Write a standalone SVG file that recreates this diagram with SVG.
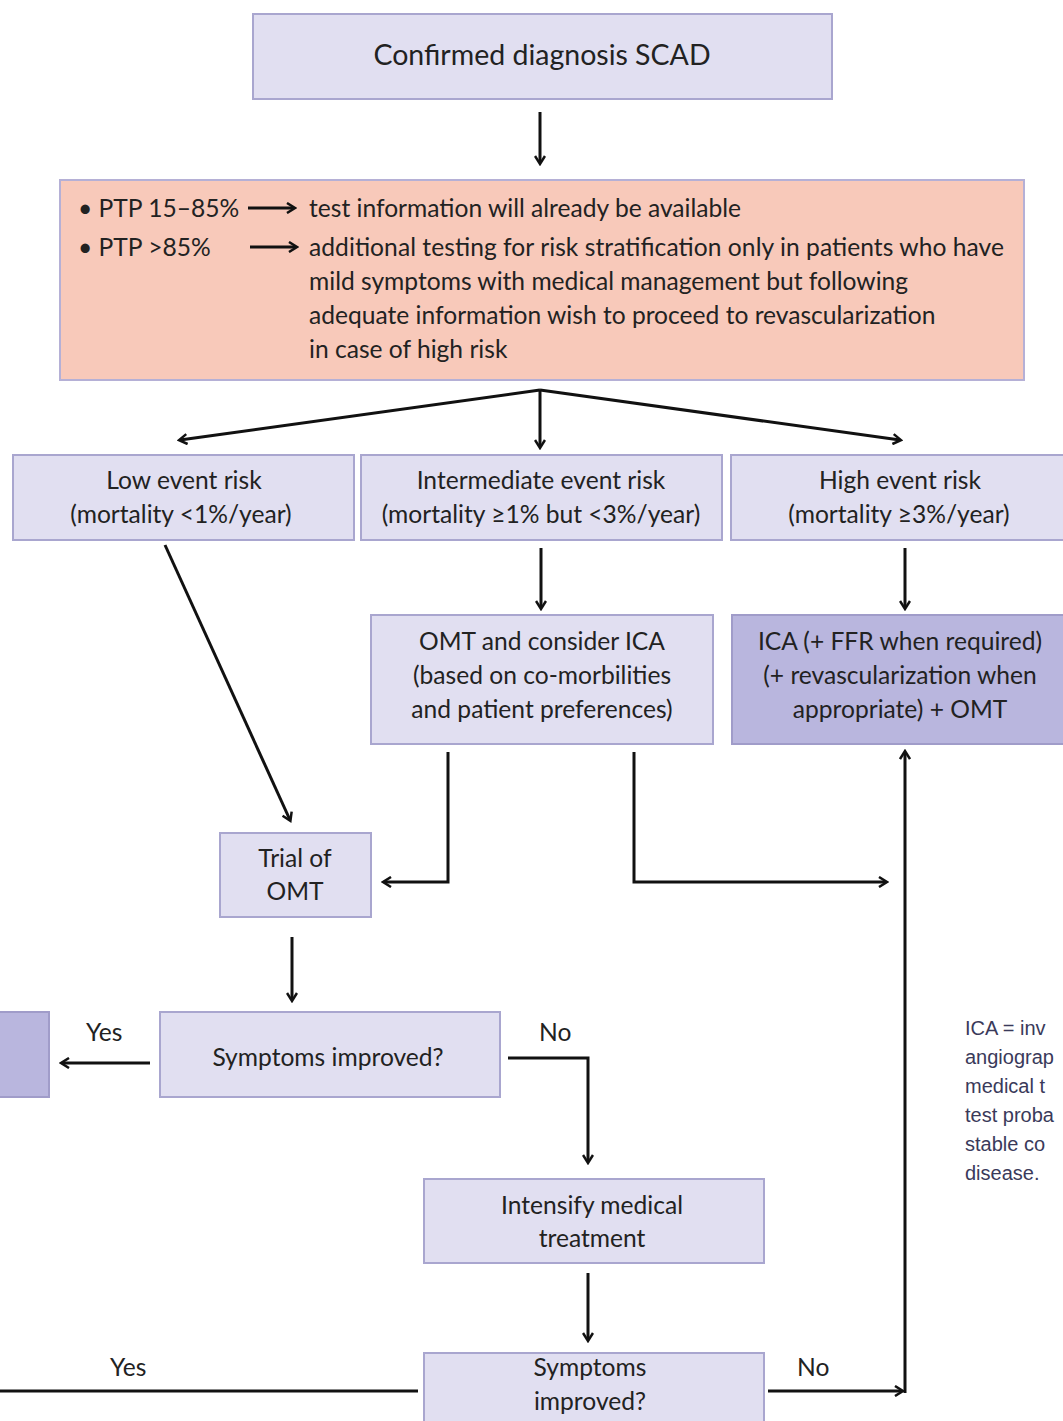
<svg xmlns="http://www.w3.org/2000/svg" width="1063" height="1421" viewBox="0 0 1063 1421">
<defs>
<style>
.box{fill:#e1dff1;stroke:#a9a6cf;stroke-width:2}
.dark{fill:#b9b6de;stroke:#a09cc9;stroke-width:2}
.pink{fill:#f8c9ba;stroke:#b5b0d6;stroke-width:2}
.t{font-family:"Lato","Open Sans",sans-serif;font-size:24.6px;fill:#222}
.c{text-anchor:middle}
.n{font-family:"Liberation Sans",Arial,sans-serif;font-size:20px;fill:#3a3a5a}
.ln{fill:none;stroke:#111;stroke-width:3}
</style>
<marker id="ah" markerWidth="12" markerHeight="12" refX="9" refY="6" orient="auto" markerUnits="userSpaceOnUse">
<path d="M2,1 L10,6 L2,11" fill="none" stroke="#111" stroke-width="2.5"/>
</marker>
</defs>
<rect width="1063" height="1421" fill="#fff"/>

<g id="n_top"><rect class="box" x="253" y="14" width="579" height="85"/><text class="t c" x="542" y="65" style="font-size:28.5px">Confirmed diagnosis SCAD</text></g>

<g id="n_ptp"><rect class="pink" x="60" y="180" width="964" height="200"/>
<text class="t" x="78" y="217">• PTP 15–85%</text>
<text class="t" x="78" y="256">• PTP &gt;85%</text>
<text class="t" x="309" y="217">test information will already be available</text>
<text class="t" x="309" y="256" textLength="695">additional testing for risk stratification only in patients who have</text>
<text class="t" x="309" y="290">mild symptoms with medical management but following</text>
<text class="t" x="309" y="324">adequate information wish to proceed to revascularization</text>
<text class="t" x="309" y="358">in case of high risk</text>
<line class="ln" x1="248" y1="208" x2="294" y2="208" stroke-width="2" marker-end="url(#ah)"/>
<line class="ln" x1="250" y1="247" x2="296" y2="247" stroke-width="2" marker-end="url(#ah)"/>
</g>

<g id="n_low"><rect class="box" x="13" y="455" width="341" height="85"/><text class="t c" x="184" y="489">Low event risk</text><text class="t c" x="181" y="523">(mortality &lt;1%/year)</text></g>
<g id="n_int"><rect class="box" x="361" y="455" width="361" height="85"/><text class="t c" x="541" y="489">Intermediate event risk</text><text class="t c" x="541" y="523">(mortality ≥1% but &lt;3%/year)</text></g>
<g id="n_high"><rect class="box" x="731" y="455" width="340" height="85"/><text class="t c" x="900" y="489">High event risk</text><text class="t c" x="899" y="523">(mortality ≥3%/year)</text></g>

<g id="n_omt"><rect class="box" x="371" y="615" width="342" height="129"/><text class="t c" x="542" y="650">OMT and consider ICA</text><text class="t c" x="542" y="684">(based on co-morbilities</text><text class="t c" x="542" y="718">and patient preferences)</text></g>
<g id="n_ica"><rect class="dark" x="732" y="615" width="340" height="129"/><text class="t c" x="900" y="650">ICA (+ FFR when required)</text><text class="t c" x="900" y="684">(+ revascularization when</text><text class="t c" x="900" y="718">appropriate) + OMT</text></g>

<g id="n_trial"><rect class="box" x="220" y="833" width="151" height="84"/><text class="t c" x="295" y="867">Trial of</text><text class="t c" x="295" y="900">OMT</text></g>

<g id="n_sym1"><rect class="box" x="160" y="1012" width="340" height="85"/><text class="t c" x="328" y="1066">Symptoms improved?</text></g>
<g id="n_left"><rect class="dark" x="-10" y="1012" width="59" height="85"/></g>

<g id="n_int2"><rect class="box" x="424" y="1179" width="340" height="84"/><text class="t c" x="592" y="1214">Intensify medical</text><text class="t c" x="592" y="1247">treatment</text></g>
<g id="n_sym2"><rect class="box" x="424" y="1353" width="340" height="80"/><text class="t c" x="590" y="1376">Symptoms</text><text class="t c" x="590" y="1410">improved?</text></g>

<g id="note">
<text class="n" x="965" y="1035">ICA = inv</text>
<text class="n" x="965" y="1064">angiograp</text>
<text class="n" x="965" y="1093">medical t</text>
<text class="n" x="965" y="1122">test proba</text>
<text class="n" x="965" y="1151">stable co</text>
<text class="n" x="965" y="1180">disease.</text>
</g>

<g id="connectors">
<line class="ln" x1="540" y1="112" x2="540" y2="163" marker-end="url(#ah)"/>
<line class="ln" x1="540" y1="390" x2="180" y2="440" marker-end="url(#ah)"/>
<line class="ln" x1="540" y1="390" x2="540" y2="447" marker-end="url(#ah)"/>
<line class="ln" x1="540" y1="390" x2="900" y2="440" marker-end="url(#ah)"/>
<line class="ln" x1="541" y1="548" x2="541" y2="608" marker-end="url(#ah)"/>
<line class="ln" x1="905" y1="548" x2="905" y2="608" marker-end="url(#ah)"/>
<line class="ln" x1="165" y1="545" x2="290" y2="820" marker-end="url(#ah)"/>
<polyline class="ln" points="448,752 448,882 384,882" marker-end="url(#ah)"/>
<polyline class="ln" points="634,752 634,882 886,882" marker-end="url(#ah)"/>
<line class="ln" x1="905" y1="1393" x2="905" y2="752" marker-end="url(#ah)"/>
<line class="ln" x1="292" y1="937" x2="292" y2="1000" marker-end="url(#ah)"/>
<line class="ln" x1="150" y1="1063" x2="62" y2="1063" marker-end="url(#ah)"/>
<polyline class="ln" points="508,1058 588,1058 588,1162" marker-end="url(#ah)"/>
<line class="ln" x1="588" y1="1273" x2="588" y2="1340" marker-end="url(#ah)"/>
<line class="ln" x1="0" y1="1391" x2="418" y2="1391"/>
<line class="ln" x1="768" y1="1391" x2="902" y2="1391" marker-end="url(#ah)"/>
<text class="t" x="86" y="1041">Yes</text>
<text class="t" x="539" y="1041">No</text>
<text class="t" x="110" y="1376">Yes</text>
<text class="t" x="797" y="1376">No</text>
</g>
</svg>
